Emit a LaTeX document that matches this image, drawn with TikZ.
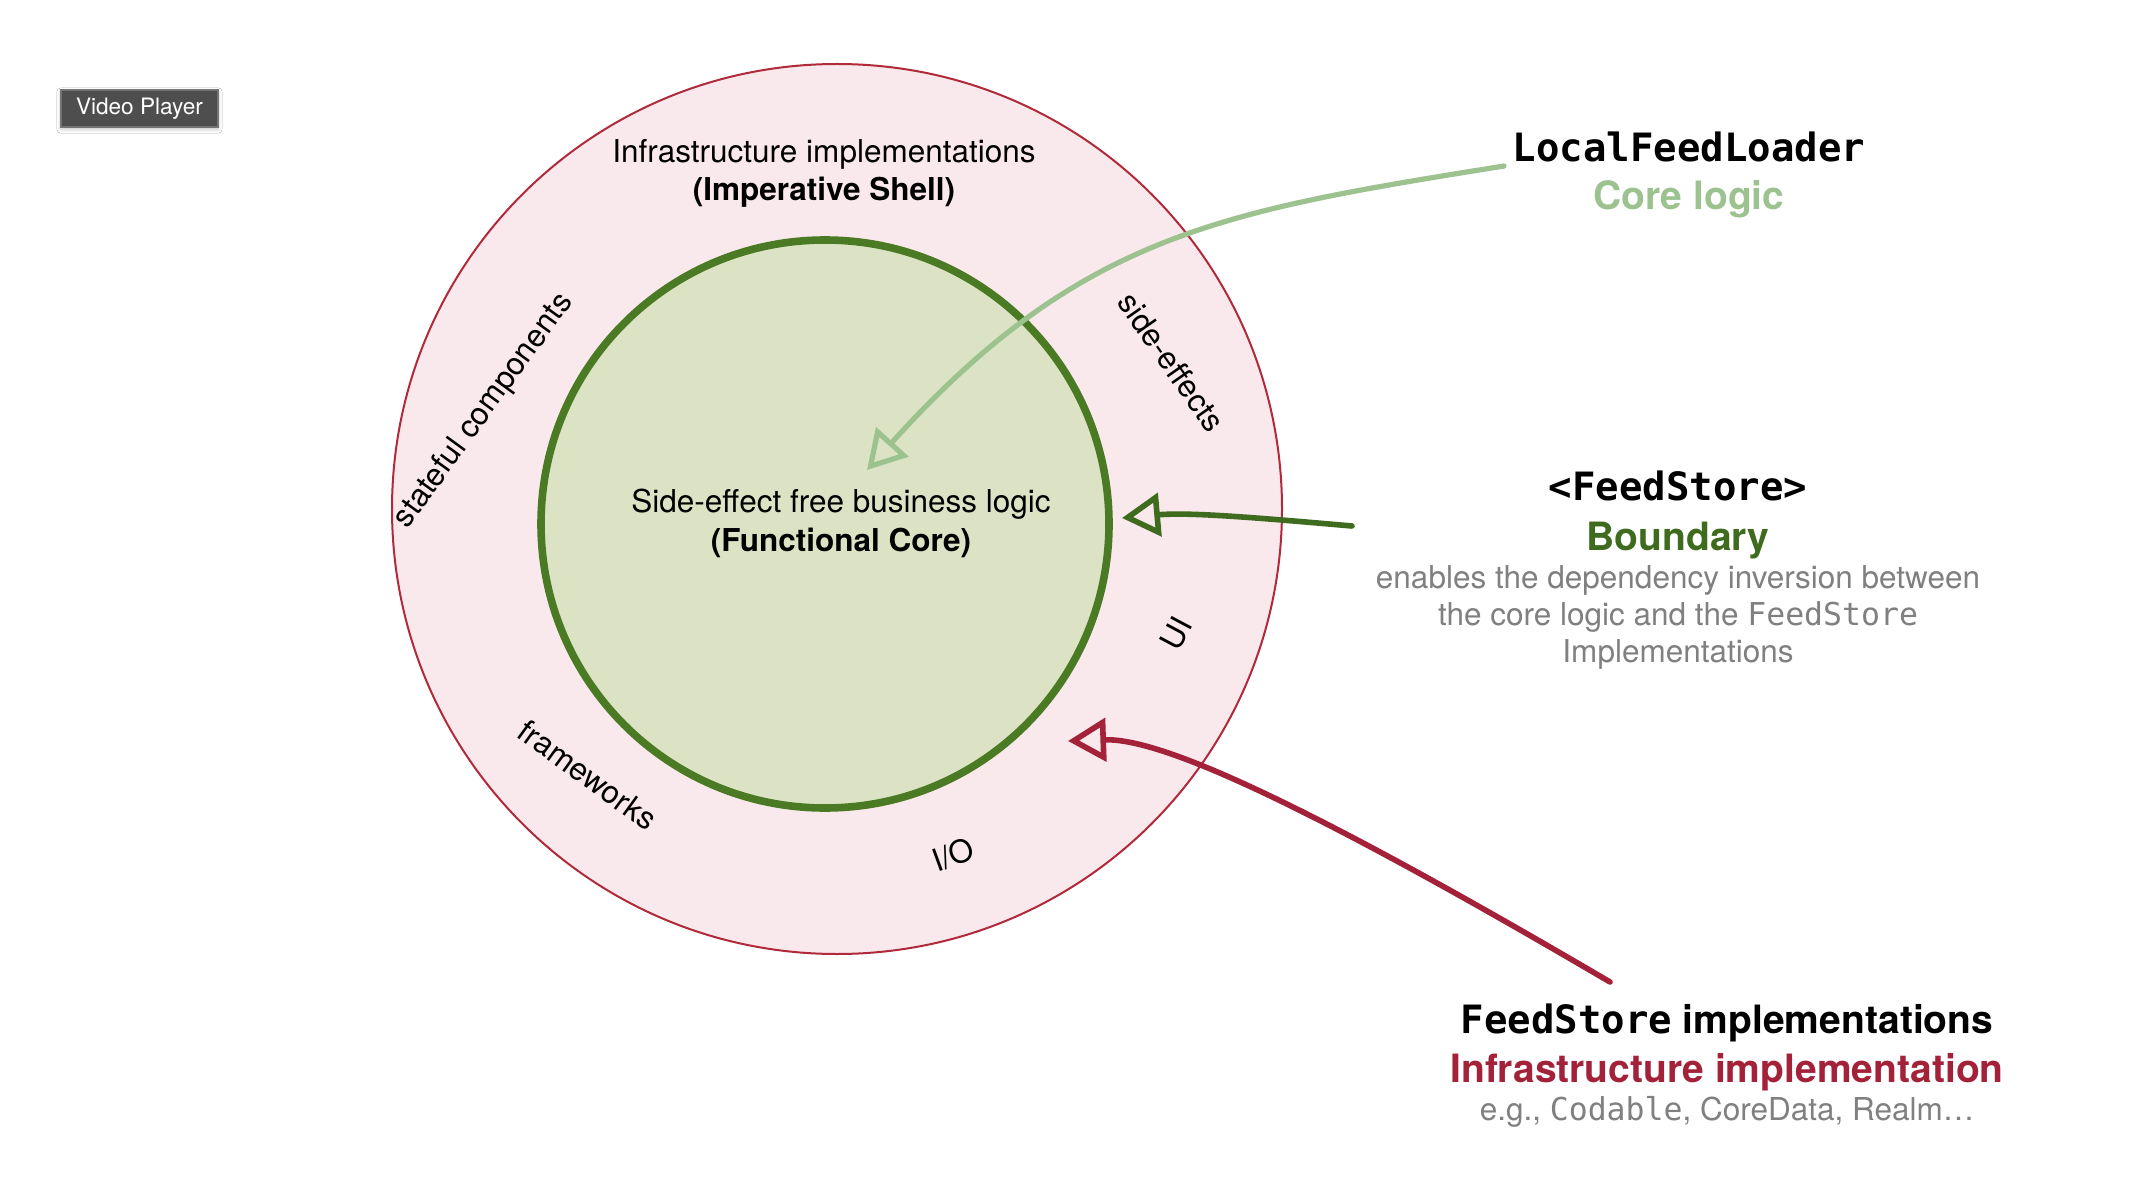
\documentclass[tikz,border=0pt]{standalone}
\usepackage{fontspec}
\setmainfont{TeX Gyre Heros}
\setmonofont{DejaVu Sans Mono}
\usetikzlibrary{arrows.meta,shadows.blur}

\definecolor{shellfill}{HTML}{FAE9EC}
\definecolor{shelledge}{HTML}{B02A3C}
\definecolor{corefill}{HTML}{DCE3C4}
\definecolor{coreedge}{HTML}{4A7A24}
\definecolor{boundgreen}{HTML}{3F6B1F}
\definecolor{lightgreen}{HTML}{9CC38F}
\definecolor{infrared}{HTML}{A3223A}
\definecolor{notegray}{HTML}{808080}
\definecolor{playerbg}{HTML}{4E4E4E}
\definecolor{playeredge}{HTML}{747474}

\newcommand{\bodysize}{\fontsize{15.75}{19.5}\selectfont}
\newcommand{\headsize}{\fontsize{19.5}{24}\selectfont}

\begin{document}
\begin{tikzpicture}[x=0.5pt,y=-0.5pt,
  ring/.style={font=\bodysize, inner sep=0pt, anchor=center},
  body/.style={font=\bodysize, inner sep=0pt, anchor=base},
  head/.style={font=\headsize, inner sep=0pt, anchor=base},
  note/.style={font=\bodysize, text=notegray, inner sep=0pt, anchor=base},
  link/.style={line width=2.6pt, line cap=round,
    -{Triangle[open,length=19pt,width=21.5pt]}},
]
\useasboundingbox[fill=white] (0,0) rectangle (2134,1192);

% window chrome badge
\node[draw=playeredge, line width=0.8pt, fill=playerbg, text=white,
  font=\fontsize{11.3}{13}\selectfont, minimum width=78.5pt,
  minimum height=18.5pt, inner sep=0pt,
  blur shadow={shadow blur steps=6, shadow xshift=0pt, shadow yshift=-1pt,
    shadow opacity=25}] (player) at (139.5,108.5) {Video Player};

% imperative shell and functional core
\node[circle, draw=shelledge, line width=1pt, fill=shellfill,
  minimum size=445pt, inner sep=0pt] (shell) at (837,509) {};
\node[circle, draw=coreedge, line width=3.8pt, fill=corefill,
  minimum size=284pt, inner sep=0pt] (core) at (825,524) {};

% shell and core captions
\node[body] (shellA) at (824,163) {Infrastructure implementations};
\node[body, font=\bodysize\bfseries] (shellB) at (824,201) {(Imperative Shell)};
\node[body] (coreA) at (841,512) {Side-effect free business logic};
\node[body, font=\bodysize\bfseries] (coreB) at (841,551) {(Functional Core)};

% words around the ring
\node[ring, rotate=54] (stateful) at (484,411) {stateful components};
\node[ring, rotate=-55] (sidefx) at (1172,362) {side-effects};
\node[ring, rotate=62] (ui) at (1176,633) {UI};
\node[ring, rotate=-36] (frameworks) at (588,775) {frameworks};
\node[ring, rotate=20] (io) at (953,855) {I/O};

% legend on the right
\node[head, font=\headsize\ttfamily\bfseries] (loader) at (1689,162) {LocalFeedLoader};
\node[head, font=\headsize\bfseries, text=lightgreen] (corelogic) at (1689,210) {Core logic};

\node[head, font=\headsize\ttfamily\bfseries] (store) at (1678,500) {<FeedStore>};
\node[head, font=\headsize\bfseries, text=boundgreen] (boundary) at (1678,550) {Boundary};
\node[note] (noteA) at (1678,588) {enables the dependency inversion between};
\node[note] (noteB) at (1678,625) {the core logic and the \texttt{FeedStore}};
\node[note] (noteC) at (1678,662) {Implementations};

\node[head, font=\headsize\bfseries] (impl) at (1727,1033) {\texttt{FeedStore} implementations};
\node[head, font=\headsize\bfseries, text=infrared] (infra) at (1727,1082) {Infrastructure implementation};
\node[note] (examples) at (1727,1120) {e.g., \texttt{Codable}, CoreData, Realm…};

% connector end points
\coordinate (loaderFrom) at (1504,166);
\coordinate (loaderTo) at (867,470);
\coordinate (storeFrom) at (1352,526);
\coordinate (storeTo) at (1122,518);
\coordinate (implFrom) at (1610,982);
\coordinate (implTo) at (1068,741);

% dependency arrows
\draw[link, lightgreen] (loaderFrom) .. controls (1224,211) and (1081,233) .. (loaderTo);
\draw[link, boundgreen, line width=2.8pt] (storeFrom) .. controls (1260,518) and (1190,512) .. (storeTo);
\draw[link, infrared, line width=2.8pt] (implFrom) .. controls (1300,800) and (1160,738) .. (implTo);
\end{tikzpicture}
\end{document}
